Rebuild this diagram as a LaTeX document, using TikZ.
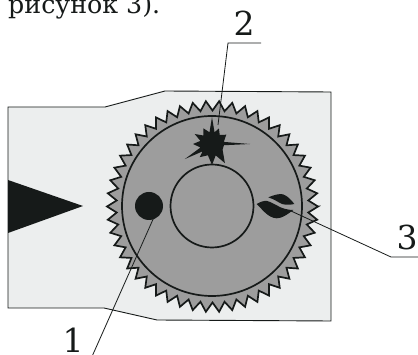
\documentclass[tikz,border=0pt]{standalone}
\usepackage{fontspec}
\setmainfont{DejaVu Serif}
\definecolor{inkblack}{HTML}{161A19}
\definecolor{platecol}{HTML}{ECEEEE}
\definecolor{wheelcol}{HTML}{9D9D9D}
\tikzset{
  leader/.style={draw=inkblack, line width=0.8pt},
  callout/.style={font=\fontsize{33}{33}\selectfont, text=inkblack, inner sep=0pt},
  ring/.style={circle, draw=inkblack, line width=1.7pt, inner sep=0pt},
}
\begin{document}
\begin{tikzpicture}[x=1pt,y=-1pt]
\useasboundingbox (0,0) rectangle (418,355);
% Plate
\draw[fill=platecol, draw=inkblack, line width=0.9pt] (8,107) -- (105,107) -- (165,91) -- (331,92) -- (331,321) -- (157,320) -- (104,308) -- (8,308) -- cycle;
\fill[inkblack] (8,180) -- (83,206) -- (8,233) -- cycle;
% Toothed wheel
\coordinate (wheel) at (212,206);
\draw[fill=wheelcol, draw=inkblack, line width=1.7pt, line join=miter, shift={(212.5,206.5)}] (0:105.5)
  \foreach \a in {0,...,49} { -- ({\a*7.2+3.6}:96) -- ({(\a+1)*7.2}:105.5) } -- cycle;
\node[ring, minimum size=180pt] (rim) at (wheel) {};
\node[ring, minimum size=83pt] (hub) at (wheel) {};
\node[circle, fill=inkblack, minimum size=28pt, inner sep=0pt] (dot) at (149,206) {};
% Star
\coordinate (star) at (212,144);
\fill[inkblack, shift={(star)}] (0:38)
  \foreach \a/\r in {6/12,28/12,56/23,72/12,90/21,110/12,133/18,142/12,151/31,163/12,180/19,195/12,210/20,225/12,241/18,258/12,270/27,282/12,294/17,310/12,327/17,350/12} { -- (\a:\r) } -- cycle;
% Leaf
\coordinate (leaf) at (291,211);
\fill[inkblack] (268.3,197.3) .. controls (274,195) and (279,193.5) .. (283,194.3) .. controls (288,196) and (292,201) .. (294.3,204) .. controls (288,205.5) and (283,205) .. (279,202.5) .. controls (275,200) and (272,198.5) .. (268.3,197.3) -- cycle;
\fill[inkblack] (256.7,204) .. controls (260,202) and (264,200.5) .. (267,201) .. controls (271,202) and (274,204) .. (277,205.5) .. controls (282,208.5) and (288,210) .. (293.3,210) .. controls (288,214) and (282,218.5) .. (276.7,218.3) .. controls (268,218) and (262,209) .. (256.7,204) -- cycle;
% Labels and leaders
\node[callout] (lab1) at (73,340) {1};
\node[callout] (lab2) at (244,23) {2};
\node[callout] (lab3) at (407,237) {3};
\coordinate (end1) at (92.7,355);
\coordinate (bend2) at (228,43);
\coordinate (end2) at (261,43);
\coordinate (tip2) at (218,125);
\coordinate (bend3) at (391,257);
\coordinate (end3) at (418,257);
\draw[leader] (dot.south east) ++(-5,1) -- (end1);
\draw[leader] (tip2) -- (bend2) -- (end2);
\draw[leader] (leaf) -- (bend3) -- (end3);
\node[anchor=base west, font=\fontsize{25.3}{25.3}\selectfont, text=inkblack, inner sep=0pt] (caption) at (8,14) {рисунок 3).};
\end{tikzpicture}
\end{document}
